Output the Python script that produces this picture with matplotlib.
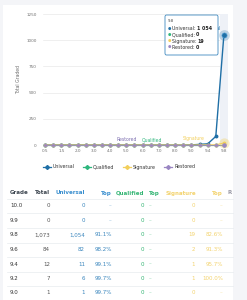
import matplotlib
matplotlib.use("Agg")
import matplotlib.pyplot as plt
from matplotlib.lines import Line2D
from matplotlib.patches import FancyBboxPatch, Rectangle

# ---------------- data ----------------
grades = ["0.5", "1.0", "1.5", "1.8", "2.0", "2.5", "3.0", "3.5", "4.0", "4.5",
          "5.0", "5.5", "6.0", "6.5", "7.0", "7.5", "8.0", "8.5", "9.0", "9.2",
          "9.4", "9.6", "9.8"]
universal = [0]*18 + [1, 6, 11, 82, 1054]
qualified = [0]*23
signature = [0]*19 + [1, 1, 2, 19]
restored = [0]*23
y_ticks = [0, 250, 500, 750, 1000, 1250]
y_tick_labels = ["0", "250", "500", "750", "1000", "1250"]

table_grades = ["10.0", "9.9", "9.8", "9.6", "9.4", "9.2", "9.0"]
table_total = ["0", "0", "1,073", "84", "12", "7", "1"]
table_universal = ["0", "0", "1,054", "82", "11", "6", "1"]
table_univ_top = ["–", "–", "91.1%", "98.2%", "99.1%", "99.7%", "99.7%"]
table_qualified = ["0", "0", "0", "0", "0", "0", "0"]
table_qual_top = ["–", "–", "–", "–", "–", "–", "–"]
table_signature = ["0", "0", "19", "2", "1", "1", "0"]
table_sig_top = ["–", "–", "82.6%", "91.3%", "95.7%", "100.0%", "–"]

C_UNI = "#1f6fa6"
C_QUA = "#2eb67d"
C_SIG = "#f2cf5b"
C_RES = "#9a86c2"
GRAY = "#6f6f6f"

W, H = 247, 300
fig = plt.figure(figsize=(W/100, H/100), dpi=100)
fig.patch.set_facecolor("#f4f5f8")

def fx(px):
    return px / W

def fy(py):
    return 1 - py / H

# white card
fig.add_artist(Rectangle((fx(3), 0), fx(230), fy(5), transform=fig.transFigure,
                         facecolor="white", edgecolor="none", zorder=0))

# ---------------- chart ----------------
ax = fig.add_axes([fx(43), fy(145), fx(228 - 43), (145 - 14) / H])
ax.set_facecolor("none")
ax.set_xlim(-0.25, 22.5)
ax.set_ylim(0, 1250)
for s in ax.spines.values():
    s.set_visible(False)
for yt in y_ticks:
    ax.axhline(yt, color="#e9e9e9", lw=0.5, zorder=0)
ax.axvspan(21.5, 22.5, color="#eef1f7", zorder=0, lw=0)

x = list(range(len(grades)))
ax.plot(x, universal, color=C_UNI, lw=1.0, marker="o", ms=1.8, zorder=3, clip_on=False)
ax.plot(x, qualified, color=C_QUA, lw=0.8, marker="o", ms=1.8, zorder=3, clip_on=False)
ax.plot(x, signature, color=C_SIG, lw=0.8, marker="o", ms=1.8, zorder=4, clip_on=False)
ax.plot(x, restored, color=C_RES, lw=0.8, marker="o", ms=1.8, zorder=5, alpha=0.75, clip_on=False)

# hovered points
ax.scatter([22], [universal[-1]], s=60, color=C_UNI, alpha=0.25, lw=0, zorder=6, clip_on=False)
ax.scatter([22], [universal[-1]], s=14, color=C_UNI, edgecolor="#5aa7dd", lw=0.4, zorder=7, clip_on=False)
ax.scatter([22], [signature[-1]], s=55, color=C_SIG, alpha=0.35, lw=0, zorder=6, clip_on=False)
ax.scatter([22], [restored[-1]], s=10, color=C_RES, lw=0, zorder=7, clip_on=False)

ax.set_xticks(x[::2])
ax.set_xticklabels(grades[::2])
ax.set_yticks(y_ticks)
ax.set_yticklabels(y_tick_labels)
ax.tick_params(axis="both", length=0, labelsize=3.0, labelcolor=GRAY)
ax.tick_params(axis="x", pad=3)
ax.tick_params(axis="y", pad=4.5)
ax.set_ylabel("Total Graded", fontsize=3.3, color=GRAY, labelpad=4)

# series labels
ax.text(10.0, 48, "Restored", color="#7d6fb0", fontsize=3.3, ha="center", va="center", zorder=8)
ax.text(13.1, 48, "Qualified", color=C_QUA, fontsize=3.3, ha="center", va="center", zorder=8)
ax.text(18.3, 58, "Signature", color=C_SIG, fontsize=3.3, ha="center", va="center", zorder=8)
ax.text(21.65, 1107, "Universal", color=C_UNI, fontsize=3.3, ha="right", va="center", zorder=8)

# tooltip
fig.add_artist(FancyBboxPatch((fx(165), fy(55)), fx(218 - 165), (55 - 15) / H,
                              boxstyle="round,pad=0,rounding_size=0.006",
                              transform=fig.transFigure, facecolor="white",
                              edgecolor="#3a86bd", lw=0.6, alpha=0.97, zorder=20))
fig.text(fx(168), fy(21.5), grades[-1], fontsize=2.8, color="#444", va="center", zorder=21)
tip = [("Universal", universal[-1], C_UNI), ("Qualified", qualified[-1], C_QUA),
       ("Signature", signature[-1], C_SIG), ("Restored", restored[-1], C_RES)]
for i, (name, val, col) in enumerate(tip):
    yy = fy(28.5 + i * 6.3)
    fig.text(fx(167.5), yy, "●", fontsize=2.8, color=col, va="center", zorder=21)
    t = fig.text(fx(171.5), yy, f"{name}: ", fontsize=3.4, color="#333", va="center", zorder=21)
    fig.canvas.draw()
    bb = t.get_window_extent()
    fig.text(bb.x1 / fig.bbox.width, yy, f"{val:,}".replace(",", " "), fontsize=3.4,
             color="#222", weight="bold", va="center", zorder=21)

# legend
leg = [("Universal", C_UNI, 47), ("Qualified", C_QUA, 87),
       ("Signature", C_SIG, 127), ("Restored", C_RES, 168)]
for name, col, px in leg:
    fig.add_artist(Line2D([fx(px - 4), fx(px + 4)], [fy(167), fy(167)], color=col, lw=0.9,
                          transform=fig.transFigure))
    fig.add_artist(Line2D([fx(px)], [fy(167)], color=col, marker="D", ms=2.0, lw=0,
                          transform=fig.transFigure))
    fig.text(fx(px + 6), fy(167), name, fontsize=3.4, color="#333", va="center")

# ---------------- table ----------------
FS = 4.0
hdr_y = 193
fig.text(fx(10), fy(hdr_y), "Grade", fontsize=FS, weight="bold", color="#3d4650", va="center")
fig.text(fx(50), fy(hdr_y), "Total", fontsize=FS, weight="bold", color="#3d4650", va="center", ha="right")
fig.text(fx(85), fy(hdr_y), "Universal", fontsize=FS, weight="bold", color="#3a8fcf", va="center", ha="right")
fig.text(fx(112), fy(hdr_y), "Top", fontsize=FS, weight="bold", color="#3a8fcf", va="center", ha="right")
fig.text(fx(144), fy(hdr_y), "Qualified", fontsize=FS, weight="bold", color="#34b574", va="center", ha="right")
fig.text(fx(149), fy(hdr_y), "Top", fontsize=FS, weight="bold", color="#34b574", va="center")
fig.text(fx(196), fy(hdr_y), "Signature", fontsize=FS, weight="bold", color="#f3d36e", va="center", ha="right")
fig.text(fx(223), fy(hdr_y), "Top", fontsize=FS, weight="bold", color="#f3d36e", va="center", ha="right")
fig.text(fx(227), fy(hdr_y), "R", fontsize=FS, weight="bold", color="#9a9aa6", va="center")

line_ys = [198.5, 213, 228, 242.5, 257, 271.5, 286]
for ly in line_ys:
    fig.add_artist(Line2D([fx(7), fx(233)], [fy(ly), fy(ly)], color="#e8ebef", lw=0.5,
                          transform=fig.transFigure))

row_ys = [205.5, 220.5, 235, 249.5, 264, 279, 293]
for i, ry in enumerate(row_ys):
    yy = fy(ry)
    fig.text(fx(10), yy, table_grades[i], fontsize=FS, color="#333", va="center")
    fig.text(fx(50), yy, table_total[i], fontsize=FS, color="#555", va="center", ha="right")
    fig.text(fx(85), yy, table_universal[i], fontsize=FS, color="#3a86bd", va="center", ha="right")
    ut = table_univ_top[i]
    fig.text(fx(112 if ut != "–" else 111), yy, ut, fontsize=FS,
             color="#3a86bd" if ut != "–" else "#8dbbdc", va="center", ha="right")
    fig.text(fx(144), yy, table_qualified[i], fontsize=FS, color="#34b574", va="center", ha="right")
    fig.text(fx(149), yy, table_qual_top[i], fontsize=FS, color="#8fd3b0", va="center")
    fig.text(fx(195), yy, table_signature[i], fontsize=FS, color="#f3d36e", va="center", ha="right")
    st = table_sig_top[i]
    fig.text(fx(223 if st != "–" else 222), yy, st, fontsize=FS,
             color="#f3d36e" if st != "–" else "#f7e3a6", va="center", ha="right")

fig.savefig("out.png", dpi=100)
